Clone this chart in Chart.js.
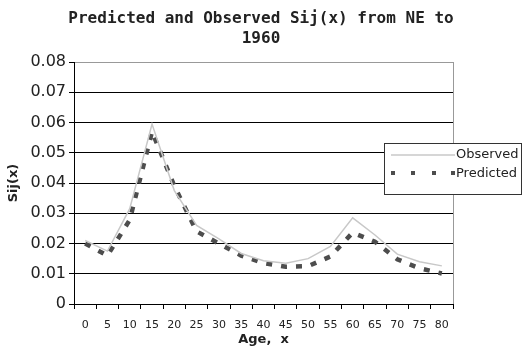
<!DOCTYPE html>
<html>
<head>
<meta charset="utf-8">
<script src="https://cdn.jsdelivr.net/npm/chart.js@4/dist/chart.umd.min.js"></script>
<style>
  html, body { margin: 0; padding: 0; background: #fff; }
  #chart-wrap { width: 522px; height: 350px; }
</style>
</head>
<body>
<div id="chart-wrap"><canvas id="sij-chart" width="522" height="350"></canvas></div>
<script>
// Данные графика
const ageLabels = ['0', '5', '10', '15', '20', '25', '30', '35', '40', '45', '50', '55', '60', '65', '70', '75', '80'];
const observedValues = [0.021, 0.0175, 0.0315, 0.0595, 0.0375, 0.026, 0.0215, 0.0167, 0.0143, 0.0135, 0.015, 0.019, 0.0285, 0.0228, 0.0165, 0.014, 0.0126];
const predictedValues = [0.020, 0.016, 0.0278, 0.057, 0.039, 0.024, 0.020, 0.016, 0.0135, 0.0123, 0.0125, 0.0157, 0.0236, 0.0206, 0.0148, 0.0118, 0.0101];
const legendNames = ['Observed', 'Predicted'];
const titleLines = ['Predicted and Observed Sij(x) from NE to', '1960'];

document.addEventListener('DOMContentLoaded', () => {
  const observedColor = '#c8c8c8';
  const predictedColor = '#4d4d4d';

  /**
   * Рамка области графика справа
   */
  const plotFrame = {
    id: 'plotFrame',
    afterDraw: (chart) => {
      const { ctx, chartArea } = chart;
      ctx.save();
      ctx.strokeStyle = '#999';
      ctx.lineWidth = 1;
      ctx.beginPath();
      ctx.moveTo(Math.round(chartArea.right) + 0.5, chartArea.top);
      ctx.lineTo(Math.round(chartArea.right) + 0.5, chartArea.bottom);
      ctx.stroke();
      ctx.restore();
    }
  };

  /**
   * Легенда в рамке, как в Excel
   */
  const boxLegend = {
    id: 'boxLegend',
    afterDraw: (chart) => {
      const { ctx } = chart;
      const x = 384.5, y = 143.5, w = 137, h = 51;
      ctx.save();
      ctx.fillStyle = '#fff';
      ctx.fillRect(x, y, w, h);
      ctx.strokeStyle = '#333';
      ctx.lineWidth = 1;
      ctx.strokeRect(x, y, w, h);

      // Observed
      ctx.strokeStyle = observedColor;
      ctx.lineWidth = 1.5;
      ctx.beginPath();
      ctx.moveTo(391, 155);
      ctx.lineTo(455, 155);
      ctx.stroke();

      // Predicted
      ctx.fillStyle = predictedColor;
      [391, 411, 432, 451].forEach(px => ctx.fillRect(px, 171, 4, 4));

      ctx.fillStyle = '#222';
      ctx.font = '13px "DejaVu Sans"';
      ctx.textBaseline = 'middle';
      ctx.fillText(legendNames[0], 456, 155);
      ctx.fillText(legendNames[1], 456, 174);
      ctx.restore();
    }
  };

  const ctx = document.getElementById('sij-chart').getContext('2d');

  new Chart(ctx, {
    type: 'line',
    data: {
      labels: ageLabels,
      datasets: [
        {
          label: legendNames[0],
          data: observedValues,
          borderColor: observedColor,
          borderWidth: 1.5,
          pointRadius: 0,
          tension: 0,
          fill: false
        },
        {
          label: legendNames[1],
          data: predictedValues,
          borderColor: predictedColor,
          borderWidth: 4.5,
          borderDash: [6, 9],
          pointRadius: 0,
          tension: 0,
          fill: false
        }
      ]
    },
    options: {
      responsive: false,
      animation: false,
      devicePixelRatio: 1,
      layout: { padding: 0 },
      plugins: {
        legend: { display: false },
        tooltip: { enabled: false },
        title: {
          display: true,
          text: titleLines,
          color: '#222',
          font: { family: '"DejaVu Sans Mono"', size: 16, weight: 'bold', lineHeight: 1.25 },
          padding: { top: 9, bottom: 13 }
        }
      },
      scales: {
        x: {
          offset: true,
          grid: {
            offset: true,
            drawOnChartArea: false,
            drawTicks: true,
            tickLength: 5,
            tickColor: '#000'
          },
          border: { color: '#000', width: 1 },
          ticks: {
            color: '#222',
            padding: 10,
            maxRotation: 0,
            autoSkip: false,
            font: { family: '"DejaVu Sans"', size: 11 }
          },
          title: {
            display: true,
            text: 'Age,  x',
            color: '#222',
            font: { family: '"DejaVu Sans"', size: 13, weight: 'bold' },
            padding: { top: 0, bottom: 3 }
          },
          afterFit: (scale) => { scale.height = 46; }
        },
        y: {
          min: 0,
          max: 0.08,
          grid: {
            color: (c) => (c.tick && c.tick.value >= 0.08 ? '#999' : '#000'),
            tickColor: '#000',
            tickLength: 5,
            lineWidth: 1
          },
          border: { color: '#000', width: 1 },
          ticks: {
            stepSize: 0.01,
            color: '#222',
            padding: 3,
            font: { family: '"DejaVu Sans"', size: 16 },
            callback: (v) => (v === 0 ? '0' : v.toFixed(2))
          },
          title: {
            display: true,
            text: 'Sij(x)',
            color: '#222',
            font: { family: '"DejaVu Sans"', size: 13, weight: 'bold' },
            padding: { top: 6, bottom: 0 }
          },
          afterFit: (scale) => { scale.width = 74; }
        },
        // пустое место справа под легенду
        yRight: {
          position: 'right',
          display: true,
          grid: { display: false },
          border: { display: false },
          ticks: { display: false },
          afterFit: (scale) => { scale.width = 69; }
        }
      }
    },
    plugins: [plotFrame, boxLegend]
  });
});
</script>
</body>
</html>
